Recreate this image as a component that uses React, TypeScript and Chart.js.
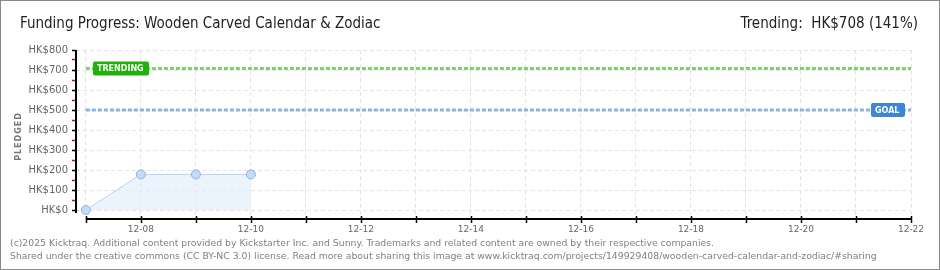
import React, { useEffect, useRef } from "react";
import { Chart, registerables } from "chart.js";

Chart.register(...registerables);

// ---- data ----
const days: number[] = [7, 8, 9, 10, 11, 12, 13, 14, 15, 16, 17, 18, 19, 20, 21, 22];
const pledgedDays: number[] = [7, 8, 9, 10];
const pledgedValues: number[] = [0, 178, 178, 178];
const goalValue = 500;
const trendingValue = 708;
const yTicks: number[] = [0, 50, 100, 150, 200, 250, 300, 350, 400, 450, 500, 550, 600, 650, 700, 750, 800];
const titleText = "Funding Progress: Wooden Carved Calendar & Zodiac";
const trendingText = "Trending:  HK$708 (141%)";
const footerLines: string[] = [
  "(c)2025 Kicktraq. Additional content provided by Kickstarter Inc. and Sunny. Trademarks and related content are owned by their respective companies.",
  "Shared under the creative commons (CC BY-NC 3.0) license. Read more about sharing this image at www.kicktraq.com/projects/149929408/wooden-carved-calendar-and-zodiac/#sharing",
];

const dayLabel = (d: number) => (d % 2 === 0 ? `12-${String(d).padStart(2, "0")}` : "");

const decorPlugin = {
  id: "decor",
  beforeDraw(chart: any) {
    const ctx = chart.ctx;
    ctx.save();
    ctx.fillStyle = "#ffffff";
    ctx.fillRect(0, 0, chart.width, chart.height);
    ctx.restore();
  },
  afterDraw(chart: any) {
    const ctx = chart.ctx;
    const x = chart.scales.x;
    const y = chart.scales.y;
    ctx.save();
    // border
    ctx.strokeStyle = "#8a8a8a";
    ctx.lineWidth = 1;
    ctx.strokeRect(0.5, 0.5, chart.width - 1, chart.height - 1);

    // title
    ctx.fillStyle = "#222";
    ctx.textBaseline = "alphabetic";
    ctx.font = "15px 'DejaVu Sans Condensed', 'DejaVu Sans'";
    ctx.textAlign = "left";
    ctx.fillText(titleText, 20, 28);
    ctx.textAlign = "right";
    ctx.fillText(trendingText, 918, 28);

    // PLEDGED
    ctx.save();
    ctx.translate(19, (y.top + y.bottom) / 2 + 2);
    ctx.rotate(-Math.PI / 2);
    ctx.textAlign = "center";
    ctx.textBaseline = "middle";
    ctx.fillStyle = "#777";
    ctx.font = "bold 8px 'DejaVu Sans'";
    (ctx as any).letterSpacing = "1px";
    ctx.fillText("PLEDGED", 0, 0);
    (ctx as any).letterSpacing = "0px";
    ctx.restore();

    // axis lines
    ctx.strokeStyle = "#000";
    ctx.lineWidth = 2;
    ctx.beginPath();
    ctx.moveTo(y.right, y.top);
    ctx.lineTo(y.right, y.getPixelForValue(-15));
    ctx.stroke();
    ctx.beginPath();
    ctx.moveTo(x.getPixelForValue(days[0]), x.top);
    ctx.lineTo(x.getPixelForValue(days[days.length - 1]), x.top);
    ctx.stroke();
    ctx.lineWidth = 1.5;
    for (const d of days) {
      const px = Math.round(x.getPixelForValue(d)) + 0.5;
      ctx.beginPath();
      ctx.moveTo(px, x.top - 3);
      ctx.lineTo(px, x.top + 4);
      ctx.stroke();
    }

    // badges
    const badge = (text: string, value: number, bx: number, w: number, color: string) => {
      const cy = y.getPixelForValue(value);
      ctx.fillStyle = color;
      const h = 14;
      const top = cy - h / 2;
      ctx.beginPath();
      (ctx as any).roundRect(bx, top, w, h, 2);
      ctx.fill();
      ctx.fillStyle = "#fff";
      ctx.font = "bold 8px 'DejaVu Sans'";
      ctx.textAlign = "left";
      ctx.textBaseline = "middle";
      ctx.fillText(text, bx + 4, cy + 0.5);
    };
    badge("TRENDING", trendingValue, 93, 56, "#1fb20a");
    badge("GOAL", goalValue, 871, 34, "#3d86d6");

    // footer
    ctx.fillStyle = "#808080";
    ctx.font = "9.3px 'DejaVu Sans'";
    ctx.textAlign = "left";
    ctx.textBaseline = "alphabetic";
    ctx.fillText(footerLines[0], 10, 246);
    ctx.fillText(footerLines[1], 10, 259);
    ctx.restore();
  },
};

export default function App() {
  const ref = useRef<HTMLCanvasElement | null>(null);
  useEffect(() => {
    document.body.style.margin = "0";
    const canvas = ref.current!;
    const lineData = (v: number) => [
      { x: days[0], y: v },
      { x: days[days.length - 1], y: v },
    ];
    const chart = new Chart(canvas, {
      type: "line",
      data: {
        datasets: [
          {
            label: "Trending",
            data: lineData(trendingValue),
            borderColor: "#7fd06c",
            borderWidth: 3,
            borderDash: [4, 2],
            pointRadius: 0,
            fill: false,
          },
          {
            label: "Goal",
            data: lineData(goalValue),
            borderColor: "#8cb3e0",
            borderWidth: 3,
            borderDash: [4, 2],
            pointRadius: 0,
            fill: false,
          },
          {
            label: "Pledged",
            data: pledgedDays.map((d, i) => ({ x: d, y: pledgedValues[i] })),
            borderColor: "#b5d3f3",
            borderWidth: 1,
            backgroundColor: "rgba(222,236,251,0.6)",
            fill: "origin",
            pointRadius: 4.5,
            pointBackgroundColor: "#c4dcf6",
            pointBorderColor: "#8fb2dc",
            pointBorderWidth: 1,
            tension: 0,
          },
        ],
      },
      options: {
        animation: false,
        responsive: false,
        devicePixelRatio: 1,
        layout: { padding: { left: 0, right: 29, top: 50, bottom: 0 } },
        plugins: { legend: { display: false }, tooltip: { enabled: false }, title: { display: false } },
        scales: {
          x: {
            type: "linear",
            min: 6.82,
            max: 22,
            afterFit: (s: any) => {
              s.height = 51;
            },
            afterBuildTicks: (s: any) => {
              s.ticks = days.map((d) => ({ value: d }));
            },
            ticks: {
              autoSkip: false,
              maxRotation: 0,
              padding: 5,
              color: "#666",
              font: { size: 9, family: "'DejaVu Sans'" },
              callback: (v: any) => dayLabel(Number(v)),
            },
            grid: {
              color: "#e3e3e3",
              drawTicks: false,
              tickLength: 4,
              lineWidth: 1,
            },
            border: { display: false, dash: [4, 3] },
          },
          y: {
            type: "linear",
            min: -45,
            max: 800,
            afterFit: (s: any) => {
              s.width = 76;
            },
            afterBuildTicks: (s: any) => {
              s.ticks = yTicks.map((v) => ({ value: v }));
            },
            ticks: {
              autoSkip: false,
              padding: 4,
              color: "#666",
              font: { size: 10, family: "'DejaVu Sans'" },
              callback: (v: any) => (Number(v) % 100 === 0 ? `HK$${v}` : ""),
            },
            grid: {
              color: (c: any) => (c.tick && c.tick.value % 100 === 0 ? "#e3e3e3" : "rgba(0,0,0,0)"),
              tickColor: (c: any) => (c.tick && c.tick.value % 100 === 0 ? "#000" : "#e00000"),
              tickLength: 4,
              lineWidth: 1,
              tickWidth: 1.5,
            },
            border: { display: false, dash: [4, 3] },
          },
        },
      },
      plugins: [decorPlugin],
    } as any);
    return () => chart.destroy();
  }, []);
  return (
    <div style={{ width: 940, height: 270, position: "relative" }}>
      <canvas ref={ref} width={940} height={270} style={{ width: 940, height: 270, display: "block" }} />
    </div>
  );
}
